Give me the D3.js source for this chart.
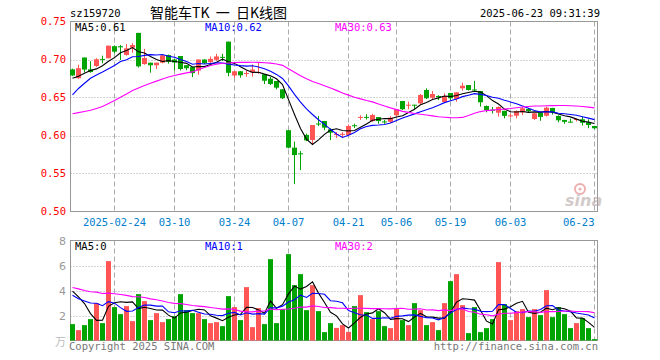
<!DOCTYPE html>
<html><head><meta charset="utf-8">
<script src="https://cdn.jsdelivr.net/npm/d3@7"></script>
<style>body{margin:0;background:#fff}svg{display:block}</style>
</head><body>
<svg id="chart" width="660" height="360"></svg>
<script>
// ---------- data ----------
const dates = ["02-13","02-14","02-17","02-18","02-19","02-20","02-21","02-24","02-25","02-26","02-27","02-28",
"03-03","03-04","03-05","03-06","03-07","03-10","03-11","03-12","03-13","03-14","03-17","03-18","03-19","03-20","03-21",
"03-24","03-25","03-26","03-27","03-28","03-31","04-01","04-02","04-03","04-07","04-08","04-09","04-10","04-11",
"04-14","04-15","04-16","04-17","04-18","04-21","04-22","04-23","04-24","04-25","04-28","04-29","04-30",
"05-06","05-07","05-08","05-09","05-12","05-13","05-14","05-15","05-16","05-19","05-20","05-21","05-22","05-23",
"05-26","05-27","05-28","05-29","05-30","06-03","06-04","06-05","06-06","06-09","06-10","06-11","06-12","06-13",
"06-16","06-17","06-18","06-19","06-20","06-23"];
const openP = [0.687,0.6754,0.7026,0.687,0.6914,0.7008,0.7016,0.7175,0.7175,0.706,
0.7155,0.735,0.694,0.6958,0.6924,0.6958,0.7059,0.700,0.7046,0.6925,
0.690,0.6855,0.700,0.6965,0.6996,0.7035,0.7235,0.6789,0.6845,0.6812,
0.6831,0.6825,0.6805,0.6747,0.6717,0.6608,0.607,0.584,0.5765,0.6007,
0.5941,0.6158,0.6191,0.6081,0.601,0.601,0.6007,0.6135,0.6235,0.6245,
0.619,0.6243,0.6185,0.618,0.6266,0.6454,0.6395,0.6405,0.6423,0.6599,
0.6497,0.652,0.644,0.6559,0.648,0.6621,0.6664,0.6605,0.6586,0.6388,
0.634,0.630,0.6325,0.6255,0.626,0.6305,0.635,0.6217,0.6303,0.626,
0.6362,0.6258,0.6205,0.6182,0.621,0.6213,0.6174,0.6125];
const highP = [0.688,0.693,0.7026,0.6977,0.7018,0.705,0.7182,0.7185,0.7191,0.7204,
0.7215,0.735,0.714,0.6958,0.6958,0.707,0.7065,0.701,0.7046,0.6925,
0.690,0.700,0.700,0.704,0.7075,0.7075,0.7235,0.6845,0.6849,0.6853,
0.6935,0.6955,0.6805,0.677,0.6717,0.6608,0.607,0.592,0.5795,0.6025,
0.6138,0.6257,0.6191,0.6095,0.6045,0.6045,0.6145,0.6155,0.6265,0.628,
0.6285,0.6243,0.6205,0.6255,0.635,0.6454,0.6445,0.6405,0.6546,0.662,
0.6586,0.653,0.6555,0.6559,0.6568,0.6695,0.6664,0.6717,0.6586,0.6395,
0.6375,0.6385,0.6325,0.6285,0.633,0.6375,0.636,0.6295,0.6303,0.638,
0.6365,0.6265,0.6205,0.6222,0.6225,0.6248,0.6213,0.6125];
const lowP = [0.678,0.6746,0.683,0.6826,0.690,0.695,0.7016,0.708,0.6993,0.705,
0.709,0.6895,0.693,0.6826,0.6875,0.695,0.6945,0.6855,0.6855,0.6858,
0.6768,0.680,0.694,0.6955,0.6982,0.698,0.678,0.6755,0.676,0.6774,
0.6775,0.681,0.6676,0.6665,0.6608,0.648,0.583,0.536,0.5546,0.5925,
0.5884,0.6125,0.607,0.594,0.5965,0.5975,0.6003,0.6099,0.6205,0.621,
0.618,0.6155,0.6155,0.6165,0.6245,0.6335,0.6345,0.6335,0.6412,0.648,
0.648,0.6465,0.6432,0.6465,0.6445,0.659,0.659,0.6585,0.638,0.6305,
0.629,0.625,0.6225,0.6235,0.6225,0.627,0.6305,0.6205,0.6193,0.625,
0.6275,0.6175,0.6155,0.6172,0.6185,0.613,0.6095,0.6085];
const closeP = [0.679,0.6886,0.6868,0.6835,0.7003,0.6998,0.7182,0.7103,0.716,0.7147,
0.719,0.691,0.702,0.6924,0.6958,0.7055,0.697,0.696,0.6875,0.6885,
0.682,0.700,0.6952,0.7009,0.704,0.7025,0.6825,0.6845,0.6792,0.6822,
0.6868,0.6835,0.6721,0.6678,0.6629,0.649,0.584,0.5743,0.5755,0.5935,
0.6138,0.6145,0.6103,0.6037,0.602,0.6022,0.6125,0.6125,0.6245,0.6235,
0.627,0.619,0.6178,0.6235,0.6345,0.6345,0.6405,0.6395,0.6533,0.649,
0.6546,0.651,0.652,0.649,0.6568,0.6655,0.6599,0.6595,0.6437,0.6336,
0.633,0.6375,0.6258,0.6265,0.6322,0.6358,0.632,0.6292,0.6245,0.6366,
0.6305,0.620,0.618,0.6175,0.6217,0.6168,0.6138,0.6095];
// volume in 万 (10k) lots
const volume = [1.31,0.83,1.23,1.71,2.99,1.39,6.35,2.67,2.11,2.75,
1.55,3.71,3.15,1.63,2.19,1.47,1.71,1.95,3.71,2.43,
2.19,2.19,1.71,1.39,1.47,1.15,3.55,2.67,1.63,4.27,
1.07,2.59,1.31,6.51,1.39,2.51,6.91,4.43,5.31,2.43,
4.43,2.35,0.67,1.39,1.01,1.23,0.69,2.75,3.63,2.27,
1.71,2.35,1.15,0.99,2.56,1.63,1.23,2.99,2.43,1.23,
1.47,0.83,2.99,4.75,5.31,2.83,0.59,2.67,0.67,0.99,
1.71,6.27,2.91,1.63,2.35,2.51,1.87,2.51,2.03,4.03,
1.87,2.67,2.11,0.99,1.39,1.79,0.99,0.11];
// sessions before the visible window (estimated), needed for the moving averages
const priorCloses = [0.645,0.640,0.636,0.630,0.624,0.600,0.592,0.588,0.585,0.585,
0.592,0.598,0.605,0.612,0.618,0.625,0.630,0.636,0.640,0.644,
0.605,0.618,0.618,0.657,0.660,0.676,0.667,0.665,0.690];
const priorVolumes = [4.2,5.1,4.6,3.9,4.8,5.3,4.4,3.8,4.9,4.5,
4.1,5.0,4.7,4.3,4.6,5.2,4.0,4.4,4.6,4.6,
3.6,3.0,3.4,3.2,3.3,3.1,3.9,5.7,5.7];
const priceTicks = [0.50,0.55,0.60,0.65,0.70,0.75];
const volTicks = [2,4,6,8];
const gridDates = ["02-24","03-10","03-24","04-07","04-21","05-06","05-19","06-03","06-23"];
const gridLabels = ["2025-02-24","03-10","03-24","04-07","04-21","05-06","05-19","06-03","06-23"];
const maPeriods = [5,10,30];
const maColors = ["#000000","#0000ff","#ff00ff"];
const priceMaLabels = ["MA5:0.61","MA10:0.62","MA30:0.63"];
const volMaLabels = ["MA5:0","MA10:1","MA30:2"];

// ---------- drawing ----------
const svg = d3.select("#chart");
const L = 70.5, R = 597.5;
const UP = "#ff5555", DN = "#00a400";
const mono = "'DejaVu Sans Mono', monospace";

const x = d3.scaleBand().domain(dates).range([69.5, 597.5]).paddingInner(0.2).paddingOuter(0.1);
const cx = d => Math.round(x(d)) + 2.5;
const yP = d3.scaleLinear().domain([0.5, 0.75]).range([211.5, 21.5]);
const yV = d3.scaleLinear().domain([0, 8]).range([340.5, 240.5]);

function movingAvg(series, prior, n) {
  const all = prior.concat(series);
  return series.map((_, i) => {
    const end = prior.length + i;
    return d3.mean(all.slice(end - n + 1, end + 1));
  });
}

// titles
svg.append("text").attr("x", 70).attr("y", 17).attr("font-family", mono).attr("font-size", 10.5).text("sz159720");
svg.append("text").attr("x", 150).attr("y", 18).attr("font-family", "'Noto Sans CJK SC'").attr("font-size", 14)
  .style("white-space", "pre").text("智能车TK  一  日K线图");
svg.append("text").attr("x", 600).attr("y", 17).attr("text-anchor", "end").attr("font-family", mono).attr("font-size", 10.5).text("2025-06-23 09:31:39");

// panels
function panel(yScale, ticks, top, bottom) {
  const g = svg.append("g");
  g.selectAll("line.h").data(ticks.filter(t => yScale(t) > top + 1 && yScale(t) < bottom - 1)).join("line")
    .attr("x1", L).attr("x2", R).attr("y1", d => Math.round(yScale(d)) + 0.5).attr("y2", d => Math.round(yScale(d)) + 0.5)
    .attr("stroke", "#aaa").attr("stroke-dasharray", "1,2");
  g.selectAll("line.v").data(gridDates).join("line")
    .attr("x1", d => cx(d)).attr("x2", d => cx(d)).attr("y1", top).attr("y2", bottom)
    .attr("stroke", "#aaa").attr("stroke-dasharray", "5,3");
  g.append("rect").attr("x", L).attr("y", top).attr("width", R - L).attr("height", bottom - top)
    .attr("fill", "none").attr("stroke", "#999");
  return g;
}
panel(yP, priceTicks, 21.5, 211.5);
panel(yV, volTicks, 240.5, 340.5);

// price axis labels
svg.selectAll("text.pt").data(priceTicks).join("text")
  .attr("x", 66).attr("y", d => yP(d) + 3.5).attr("text-anchor", "end")
  .attr("font-family", mono).attr("font-size", 10.5).attr("fill", "#ff0000")
  .text(d => d.toFixed(2));
// volume axis labels
svg.selectAll("text.vt").data(volTicks).join("text")
  .attr("x", 66).attr("y", d => yV(d) + 4).attr("text-anchor", "end")
  .attr("font-family", "'DejaVu Sans'").attr("font-size", 11).attr("fill", "#999")
  .text(d => d);
svg.append("text").attr("x", 66).attr("y", 346).attr("text-anchor", "end")
  .attr("font-family", "'Noto Sans CJK SC'").attr("font-size", 11).attr("fill", "#bbb").text("万");

// date labels
svg.selectAll("text.dl").data(gridDates).join("text")
  .attr("x", d => cx(d))
  .attr("text-anchor", (d, i) => i === gridDates.length - 1 ? "end" : "middle")
  .attr("y", 226).attr("font-family", mono).attr("font-size", 10.5).attr("fill", "#0080cc")
  .text((d, i) => gridLabels[i]);

// watermark
const wm = svg.append("g").attr("opacity", 0.55);
wm.append("circle").attr("cx", 580).attr("cy", 189).attr("r", 5).attr("fill", "none").attr("stroke", "#e07070").attr("stroke-width", 2);
wm.append("circle").attr("cx", 580).attr("cy", 189).attr("r", 1.6).attr("fill", "#e07070");
wm.append("text").attr("x", 565).attr("y", 206).attr("font-family", "'DejaVu Sans'").attr("font-style", "italic")
  .attr("font-weight", "bold").attr("font-size", 16).attr("fill", "#b0a0a0").text("sina");

// candles
const data = dates.map((d, i) => ({d, o: openP[i], h: highP[i], l: lowP[i], c: closeP[i], v: volume[i]}));
const cg = svg.append("g");
cg.selectAll("line.w").data(data).join("line")
  .attr("x1", d => cx(d.d)).attr("x2", d => cx(d.d))
  .attr("y1", d => yP(d.h)).attr("y2", d => yP(d.l))
  .attr("stroke", d => d.c >= d.o ? UP : DN);
cg.selectAll("rect").data(data).join("rect")
  .attr("x", d => Math.round(x(d.d))).attr("width", 5)
  .attr("y", d => yP(Math.max(d.o, d.c)))
  .attr("height", d => Math.max(1, yP(Math.min(d.o, d.c)) - yP(Math.max(d.o, d.c))))
  .attr("fill", d => d.c >= d.o ? UP : DN);

// price MAs
svg.append("clipPath").attr("id", "cp").append("rect").attr("x", L).attr("y", 21.5).attr("width", R - L).attr("height", 190);
maPeriods.forEach((n, k) => {
  const m = movingAvg(closeP, priorCloses, n);
  svg.append("path").datum(m).attr("clip-path", "url(#cp)")
    .attr("fill", "none").attr("stroke", maColors[k]).attr("stroke-width", 1.1)
    .attr("d", d3.line().x((v, i) => cx(dates[i])).y(v => yP(v)));
});

// volume bars
svg.append("g").selectAll("rect").data(data).join("rect")
  .attr("x", d => Math.round(x(d.d))).attr("width", 5)
  .attr("y", d => yV(d.v)).attr("height", d => yV(0) - yV(d.v))
  .attr("fill", d => d.c >= d.o ? UP : DN);
maPeriods.forEach((n, k) => {
  const m = movingAvg(volume, priorVolumes, n);
  svg.append("path").datum(m)
    .attr("fill", "none").attr("stroke", maColors[k]).attr("stroke-width", 1.1)
    .attr("d", d3.line().x((v, i) => cx(dates[i])).y(v => yV(v)));
});

// MA labels
const labX = [75, 205, 335];
priceMaLabels.forEach((t, k) => svg.append("text").attr("x", labX[k]).attr("y", 31)
  .attr("font-family", mono).attr("font-size", 10.5).attr("fill", maColors[k]).text(t));
volMaLabels.forEach((t, k) => svg.append("text").attr("x", labX[k]).attr("y", 250)
  .attr("font-family", mono).attr("font-size", 10.5).attr("fill", maColors[k]).text(t));

// footers
svg.append("text").attr("x", 69).attr("y", 350).attr("font-family", mono).attr("font-size", 10.5).attr("fill", "#777").text("Copyright 2025 SINA.COM");
svg.append("text").attr("x", 598).attr("y", 350).attr("text-anchor", "end").attr("font-family", mono).attr("font-size", 10.5).attr("fill", "#777").text("http://finance.sina.com.cn");
</script>
</body></html>
